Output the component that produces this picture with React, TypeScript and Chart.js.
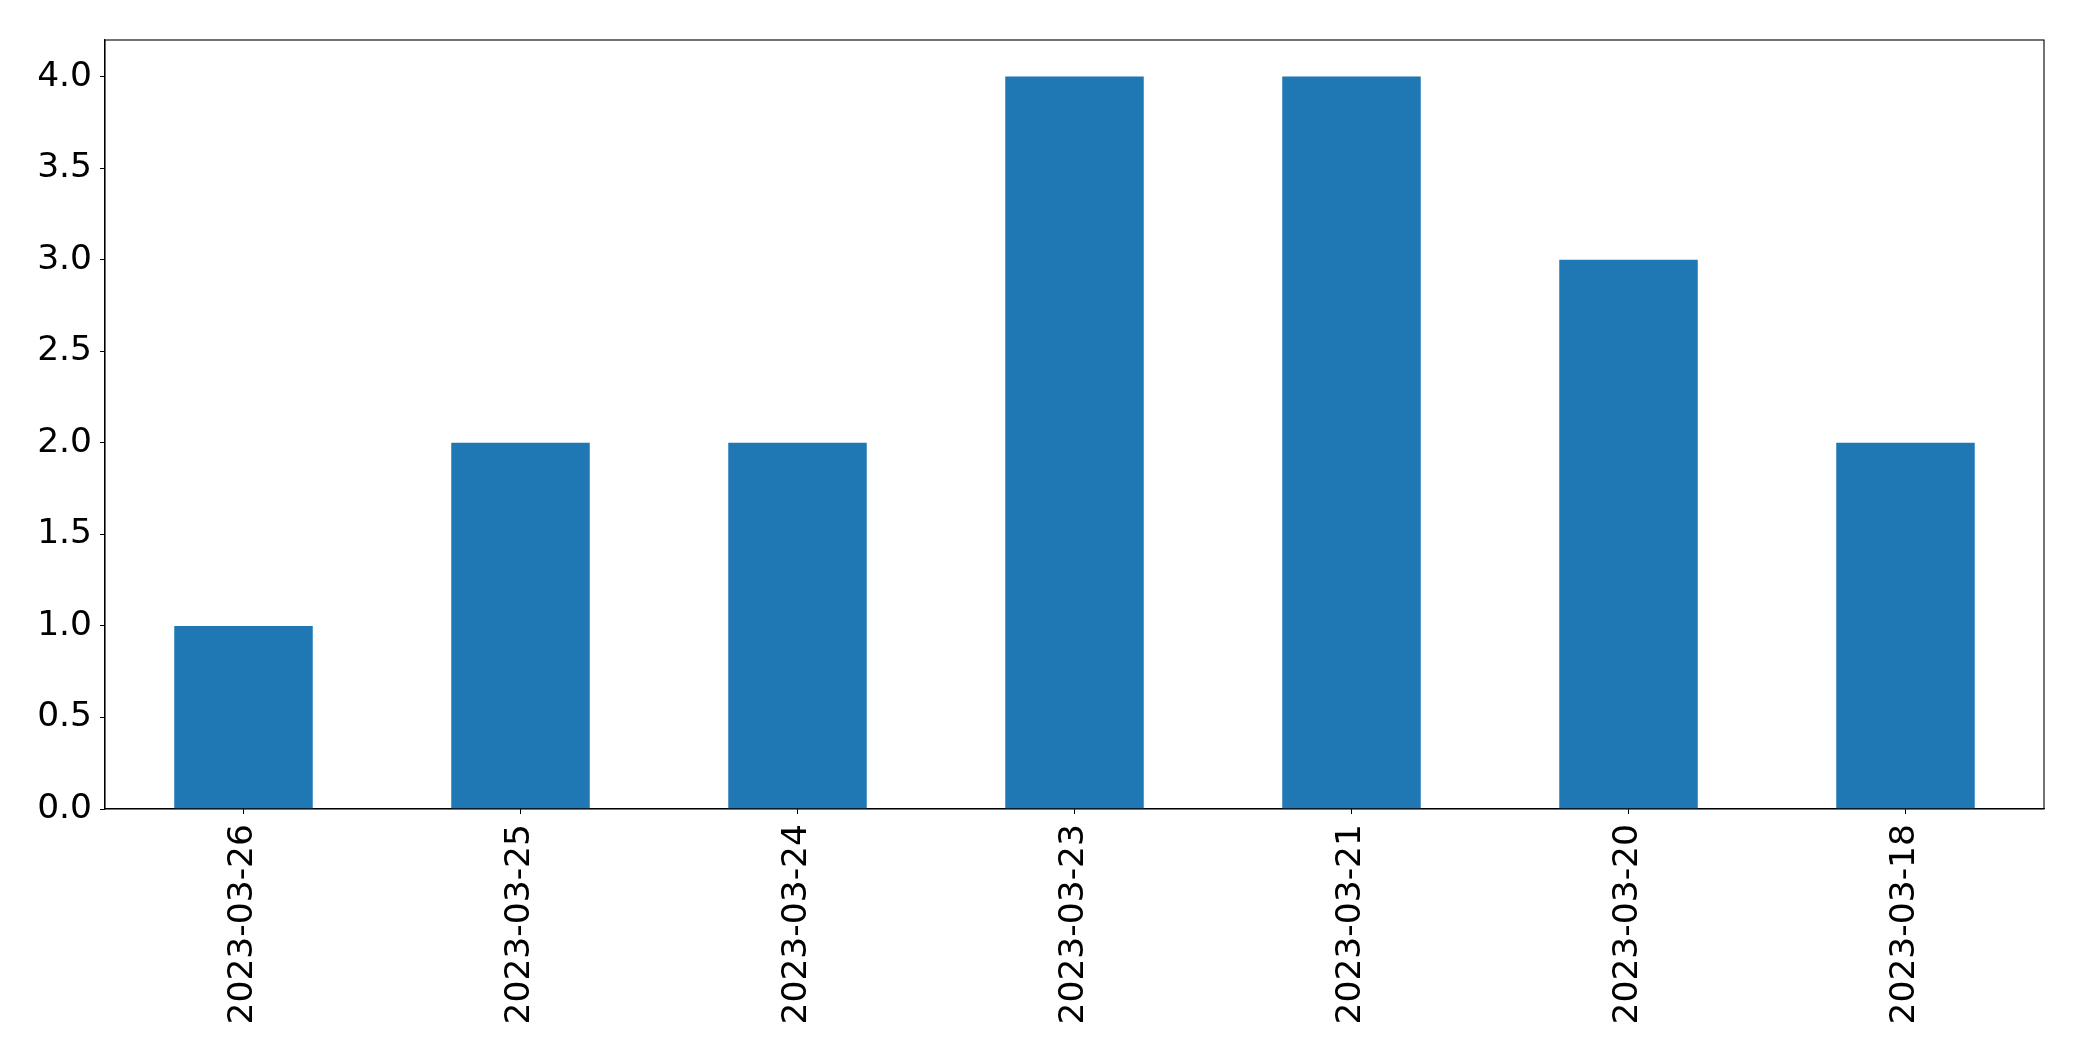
import React, { useEffect, useRef } from "react";
import { Chart, registerables } from "chart.js";

Chart.register(...registerables);

const categories = ["2023-03-26", "2023-03-25", "2023-03-24", "2023-03-23", "2023-03-21", "2023-03-20", "2023-03-18"];
const counts = [1, 2, 2, 4, 4, 3, 2];
const yTicks = [0, 0.5, 1, 1.5, 2, 2.5, 3, 3.5, 4];

const framePlugin = {
  id: "frame",
  afterDatasetsDraw(chart: any) {
    const { ctx, chartArea } = chart;
    ctx.save();
    ctx.strokeStyle = "#000";
    ctx.lineWidth = 1.1;
    ctx.strokeRect(chartArea.left, chartArea.top, chartArea.right - chartArea.left, chartArea.bottom - chartArea.top);
    ctx.restore();
  },
};

export default function App() {
  const ref = useRef<HTMLCanvasElement | null>(null);
  useEffect(() => {
    document.body.style.margin = "0";
    const font = { family: "'DejaVu Sans', sans-serif", size: 34.5 };
    const chart = new Chart(ref.current as HTMLCanvasElement, {
      type: "bar",
      data: {
        labels: categories,
        datasets: [
          {
            data: counts,
            backgroundColor: "#1f77b4",
            borderWidth: 0,
            categoryPercentage: 1,
            barPercentage: 0.5,
          },
        ],
      },
      options: {
        animation: false,
        responsive: false,
        maintainAspectRatio: false,
        layout: { padding: { top: 40, right: 38, left: 0, bottom: 0 } },
        plugins: { legend: { display: false }, tooltip: { enabled: false } },
        scales: {
          x: {
            offset: true,
            grid: { drawOnChartArea: false, drawTicks: true, tickLength: 5, color: "#000", offset: false },
            border: { display: true, color: "#000", width: 1.1 },
            ticks: { font, color: "#000", maxRotation: 90, minRotation: 90, padding: 10, autoSkip: false },
            afterFit(axis: any) {
              axis.height = 252;
            },
          },
          y: {
            min: 0,
            max: 4.2,
            grid: { drawOnChartArea: false, drawTicks: true, tickLength: 5, color: "#000" },
            border: { display: true, color: "#000", width: 1.1 },
            ticks: {
              font,
              color: "#000",
              padding: 8,
              callback: (v: any) => Number(v).toFixed(1),
            },
            afterBuildTicks(axis: any) {
              axis.ticks = yTicks.map((v) => ({ value: v }));
            },
            afterFit(axis: any) {
              axis.width = 105;
            },
          },
        },
      },
      plugins: [framePlugin],
    });
    return () => chart.destroy();
  }, []);
  return (
    <div style={{ position: "absolute", left: 0, top: 0, width: 2082, height: 1061, background: "#fff" }}>
      <canvas ref={ref} width={2082} height={1061} style={{ width: 2082, height: 1061 }} />
    </div>
  );
}
